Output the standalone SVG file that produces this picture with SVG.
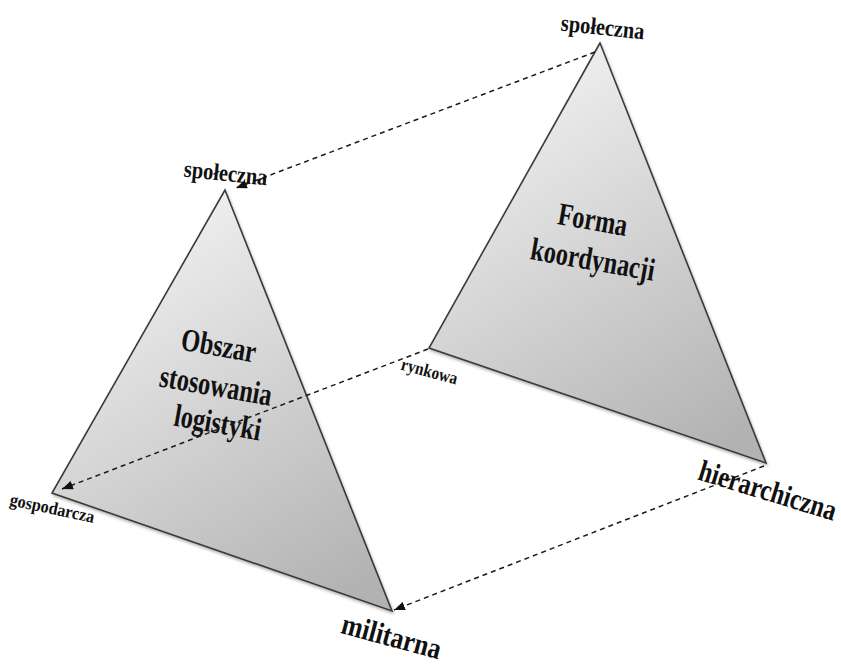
<svg xmlns="http://www.w3.org/2000/svg" width="841" height="666" viewBox="0 0 841 666">
<style>
.tri{stroke:#3a3a3a;stroke-width:1.6;stroke-linejoin:miter;fill:url(#g)}
.dash{fill:none;stroke:#1a1a1a;stroke-width:1.5;stroke-dasharray:5 4}
text{font-family:"Liberation Serif","Times New Roman",serif;font-weight:bold;fill:#111;text-anchor:middle}
.big{font-size:32px}
.lab{font-size:30px}
.mid{font-size:24px}
.sm{font-size:18px}
</style>
<defs>
<linearGradient id="g" x1="0.3" y1="0" x2="0.8" y2="1">
<stop offset="0" stop-color="#f3f3f3"/>
<stop offset="1" stop-color="#b2b2b2"/>
</linearGradient>
<filter id="sh" x="-10%" y="-10%" width="130%" height="130%">
<feDropShadow dx="1" dy="2" stdDeviation="1.5" flood-color="#000" flood-opacity="0.3"/>
</filter>
<marker id="ah" viewBox="0 0 10 8" refX="10" refY="4" markerWidth="11" markerHeight="9" markerUnits="userSpaceOnUse" orient="auto">
<path d="M0,0 L10,4 L0,8 Z" fill="#111"/>
</marker>
</defs>
<g id="triangle-right">
<polygon class="tri" filter="url(#sh)" points="600,43 429,348 766,463"/>
<text class="big" transform="translate(591,230) rotate(10) scale(0.76,1)">Forma</text>
<text class="big" transform="translate(591,270) rotate(10) scale(0.76,1)">koordynacji</text>
</g>
<g id="triangle-left">
<polygon class="tri" filter="url(#sh)" points="225,190 52,493 392,611"/>
<text class="big" transform="translate(217,356) rotate(10) scale(0.76,1)">Obszar</text>
<text class="big" transform="translate(214,396) rotate(10) scale(0.76,1)">stosowania</text>
<text class="big" transform="translate(216,433) rotate(10) scale(0.76,1)">logistyki</text>
</g>
<g id="connectors">
<line class="dash" x1="595" y1="52" x2="236" y2="188" marker-end="url(#ah)"/>
<line class="dash" x1="428" y1="349" x2="62" y2="489" marker-end="url(#ah)"/>
<line class="dash" x1="764" y1="466" x2="394" y2="610" marker-end="url(#ah)"/>
</g>
<g id="labels">
<text class="mid" transform="translate(225,181) rotate(6) scale(0.85,1)">społeczna</text>
<text class="mid" transform="translate(602,35) rotate(6) scale(0.85,1)">społeczna</text>
<text class="sm" transform="translate(428,377) rotate(15) scale(0.85,1)">rynkowa</text>
<text class="sm" transform="translate(51,514) rotate(12) scale(0.9,1)">gospodarcza</text>
<text class="lab" transform="translate(389,646) rotate(15) scale(0.85,1)">militarna</text>
<text class="lab" transform="translate(765,500) rotate(17) scale(0.81,1)">hierarchiczna</text>
</g>
</svg>
